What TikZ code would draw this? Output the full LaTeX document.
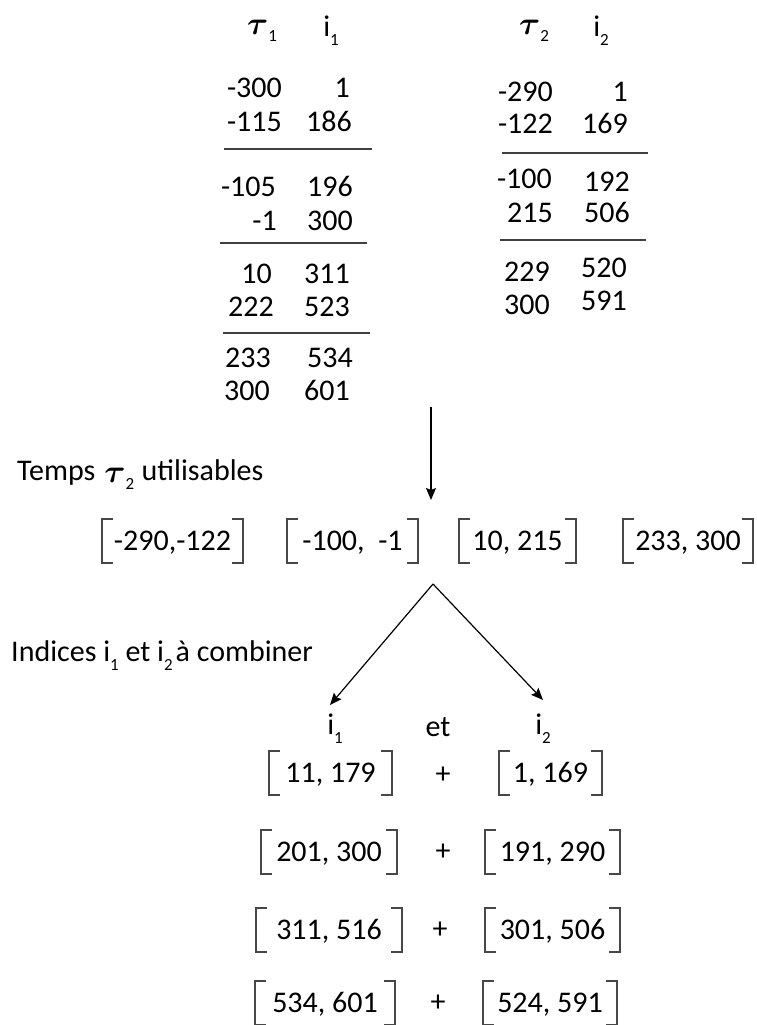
\documentclass[tikz,border=0pt]{standalone}
\usepackage{amsmath}
\usepackage{graphicx}
\usepackage{fontspec}
\setmainfont{Carlito}
\usetikzlibrary{arrows.meta}
\newcommand{\msub}[1]{\raisebox{-0.3em}{\fontsize{17}{17}\selectfont #1}}
\newcommand{\tauB}{\raisebox{-0.06em}{\scalebox{1.3}{$\boldsymbol{\tau}$}}}
\begin{document}
\begin{tikzpicture}[x=1pt,y=-1pt,
  every node/.style={font=\fontsize{30}{36}\selectfont, inner sep=0pt},
  tab/.style={anchor=east, text height=19pt, text depth=0pt},
  rule/.style={line width=1.7pt, draw=black!75},
  brk/.style={line width=1.8pt, draw=black!72},
  arr/.style={line width=1.2pt, -{Stealth[length=12pt,width=10pt,inset=2pt]}},
  ivl/.style={minimum height=44pt, anchor=center, text height=19pt, text depth=0pt}
]
\useasboundingbox (0,0) rectangle (757,1025);

% ---- table 1
\node (h1t) at (262,31) {\tauB\msub{1}};
\node (h1i) at (331,31) {i\msub{1}};
\foreach \a/\b/\xa/\xb/\y [count=\k] in {
  -300/1/282/350/88, -115/186/282/352/122,
  -105/196/276/353/187, -1/300/277/353/221,
  10/311/272/350/274, 222/523/274/350/307,
  233/534/271/353/358, 300/601/270/350/391}
{
  \node[tab] (pa\k) at (\xa,\y) {\a};
  \node[tab] (pb\k) at (\xb,\y) {\b};
}
\draw[rule] (224,149) -- (372,149);
\draw[rule] (220,243) -- (367,243);
\draw[rule] (223,333) -- (370,333);

% ---- table 2
\node (h2t) at (534,31) {\tauB\msub{2}};
\node (h2i) at (601,31) {i\msub{2}};
\foreach \a/\b/\xa/\xb/\ya/\yb [count=\k] in {
  -290/1/553/628/92/92, -122/169/553/628/124/124,
  -100/192/552/630/179/182, 215/506/553/630/213/213,
  229/520/550/627/272/268, 300/591/550/627/305/301}
{
  \node[tab] (qa\k) at (\xa,\ya) {\a};
  \node[tab] (qb\k) at (\xb,\yb) {\b};
}
\draw[rule] (502,153) -- (648,153);
\draw[rule] (500,240) -- (646,240);

% ---- first arrow
\coordinate (s1) at (431,407);
\coordinate (e1) at (431,500);
\draw[arr] (s1) -- (e1);

\node[anchor=west] (temps) at (17,475) {Temps\hspace{0.3em}\tauB\msub{2}\hspace{0.25em}utilisables};

% ---- usable intervals
\node[ivl, minimum width=141pt] (u1) at (172.5,541) {-290,-122};
\node[ivl, minimum width=131pt] (u2) at (352.5,541) {-100,\ \ -1};
\node[ivl, minimum width=117pt] (u3) at (517.5,541) {10, 215};
\node[ivl, minimum width=130pt] (u4) at (688,541) {233, 300};

% ---- split arrows
\coordinate (apex) at (433,584);
\coordinate (tl) at (330,705);
\coordinate (tr) at (543,700);
\draw[arr] (apex) -- (tl);
\draw[arr] (apex) -- (tr);

\node[anchor=west] (ind) at (11,656) {Indices i\msub{1} et i\msub{2}\hspace{0.1em}à combiner};

\node (c1) at (335,729) {i\msub{1}};
\node (c2) at (438,727) {et};
\node (c3) at (543,729) {i\msub{2}};

% ---- index pairs
\node[ivl, minimum width=123pt] (l1) at (330.5,773) {11, 179};
\node[ivl, minimum width=136pt] (l2) at (329,852) {201, 300};
\node[ivl, minimum width=146pt] (l3) at (329,930) {311, 516};
\node[ivl, minimum width=140pt] (l4) at (325,1003) {534, 601};
\node[ivl, minimum width=103pt] (r1) at (550.5,773) {1, 169};
\node[ivl, minimum width=135pt] (r2) at (552.5,852) {191, 290};
\node[ivl, minimum width=135pt] (r3) at (552.5,930) {301, 506};
\node[ivl, minimum width=134pt] (r4) at (550,1003) {524, 591};
\node (p1) at (443,775) {+};
\node (p2) at (443,852) {+};
\node (p3) at (440,930) {+};
\node (p4) at (438,1003) {+};

\foreach \n in {u1,u2,u3,u4,l1,l2,l3,l4,r1,r2,r3,r4}
{
  \draw[brk] ([xshift=11pt]\n.north west) -- (\n.north west) -- (\n.south west) -- ([xshift=11pt]\n.south west);
  \draw[brk] ([xshift=-11pt]\n.north east) -- (\n.north east) -- (\n.south east) -- ([xshift=-11pt]\n.south east);
}
\end{tikzpicture}
\end{document}
